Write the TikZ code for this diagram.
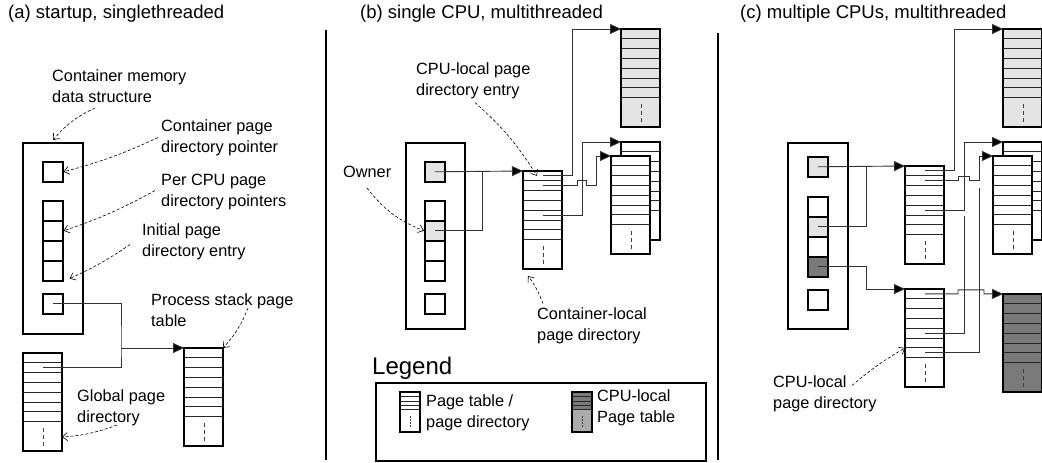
\documentclass[tikz,border=0pt]{standalone}
\usepackage{fontspec}
\setmainfont{Liberation Sans}
\usetikzlibrary{arrows.meta,calc}
\definecolor{ptlight}{HTML}{E4E4E4}
\definecolor{ptdark}{HTML}{7A7A7A}
\definecolor{ptmid}{HTML}{ABABAB}
\tikzset{
  boxline/.style={draw=black, line width=1.6pt},
  container/.style={boxline, fill=white, inner sep=0pt, anchor=north west},
  slot/.style={boxline, inner sep=0pt, minimum size=20pt, anchor=north west},
  ptable/.style={boxline, inner sep=0pt, outer sep=0pt, minimum width=39pt,
    minimum height=98pt, anchor=north west},
  rowline/.style={draw=black!85, line width=0.9pt},
  dotline/.style={draw=black!75, line width=1pt, dash pattern=on 4pt off 3pt},
  link/.style={-{Triangle[length=11pt,width=10pt,fill=black]}, line width=0.9pt,
    draw=black!80},
  note/.style={-{Straight Barb[length=5pt,width=8pt]}, line width=0.6pt,
    dash pattern=on 3pt off 2pt},
  txt/.style={font=\fontsize{16.3}{21}\selectfont, align=left, anchor=west, inner sep=0pt},
  paneltitle/.style={font=\fontsize{18.5}{22}\selectfont, anchor=west, inner sep=0pt},
  divider/.style={line width=1.6pt},
  legicon/.style={boxline, line width=1.3pt, inner sep=0pt, outer sep=0pt,
    minimum width=20pt, minimum height=40pt, anchor=north west}
}
% page table: fill, name, top-left corner
\newcommand{\pagetable}[3][white]{%
  \node[ptable, fill=#1] (#2) at (#3) {};
  \foreach \r in {1,...,7}{
    \draw[rowline] ($(#2.north west)+(0,\r*9.8)$) -- ++(39,0);
    \coordinate (#2-\r) at ($(#2.north west)+(20,\r*9.8-4.9)$);
  }
  \draw[dotline] ($(#2.north west)+(20,75)$) -- ++(0,19);
}

\begin{document}
\begin{tikzpicture}[x=1pt,y=-1pt]
  \clip (0,0) rectangle (1042,463);

  % panel titles and dividers
  \node[paneltitle] (title-a) at (8,14) {(a) startup, singlethreaded};
  \node[paneltitle] (title-b) at (360,14) {(b) single CPU, multithreaded};
  \node[paneltitle] (title-c) at (740,14) {(c) multiple CPUs, multithreaded};
  \draw[divider] (326,30) -- (326,460);
  \draw[divider] (718,33) -- (718,460);

  % (a) startup
  \node[container, minimum width=60pt, minimum height=191pt] (cont-a) at (22,142) {};
  \node[slot] (sa0) at (42,161) {};
  \foreach \k/\y in {1/200,2/220,3/240,4/260}
    \node[slot] (sa\k) at (42,\y) {};
  \node[slot] (sa5) at (42,293) {};
  \pagetable{gdir}{23,353}
  \pagetable{pst}{184,348}

  \coordinate (ja) at (121,348);
  \draw[link,-] (sa5.center) -| (ja) |- (gdir-2);
  \draw[link] (ja) -- (pst.north west);

  \node[txt] (lcmem) at (52,86) {Container memory\\data structure};
  \node[txt] (lcpd) at (161,137.5) {Container page\\directory pointer};
  \node[txt] (lpcpu) at (161,191.5) {Per CPU page\\directory pointers};
  \node[txt] (linit) at (142,241.5) {Initial page\\directory entry};
  \node[txt] (lpst) at (151,310) {Process stack page\\table};
  \node[txt] (lgpd) at (77,408) {Global page\\directory};

  \draw[note] ($(lcmem.west)+(43,22)$) to[bend right=12] ($(cont-a.north west)+(31,-2)$);
  \draw[note] ($(lcpd.west)+(-3,0)$) to[bend left=5] (sa0.east);
  \draw[note] ($(lpcpu.west)+(-6,-1)$) to[bend left=5] (sa2.east);
  \draw[note] ($(linit.west)+(-12,3)$) to[bend left=5] ($(sa4.south east)+(6,-3)$);
  \draw[note] ($(lpst.west)+(97,-2)$) to[bend left=10] (pst.north east);
  \draw[note] ($(lgpd.west)+(40,17)$) to[bend left=8] ($(gdir.east)+(0,35)$);

  % (b) single CPU, multithreaded
  \node[container, minimum width=59pt, minimum height=186pt] (cont-b) at (405,142) {};
  \node[slot, fill=ptlight] (sb0) at (424,161) {};
  \foreach \k/\y/\c in {1/200/white,2/220/ptlight,3/240/white,4/260/white}
    \node[slot, fill=\c] (sb\k) at (424,\y) {};
  \node[slot] (sb5) at (424,293) {};
  \pagetable{dirb}{523,171}
  \pagetable[ptlight]{gtb}{621,29}
  \pagetable{backb}{621,142}
  \pagetable{frontb}{611,156}

  \draw[link] (sb0.center) -- (dirb.north west);
  \draw[link,-] (sb2.center) -- ++(48,0) -- ++(0,-59);
  \draw[link] (dirb-1) -- ++(29,0) |- (gtb.north west);
  \draw[link] (dirb-2) -- ++(34,0) -- ++(0,-5) -- ++(9,0) -- ++(0,5) -- ++(10,0)
    |- (frontb.north west);
  \draw[link] (dirb-5) -- ++(39,0) |- (backb.north west);

  \node[txt] (lcle) at (416,80.5) {CPU-local page\\directory entry};
  \node[txt] (lown) at (343,172) {Owner};
  \node[txt] (lclpd) at (537,325.5) {Container-local\\page directory};

  \draw[note] ($(lcle.west)+(59,22)$) to[bend left=8] ($(dirb-1)+(-6,0)$);
  \draw[note] ($(lown.west)+(24,16)$) to[bend right=15] (sb2.west);
  \draw[note] ($(lclpd.west)+(6,-22)$) to[bend right=8] ($(dirb.south west)+(5,7)$);

  % legend
  \node[txt, font=\fontsize{24}{28}\selectfont] (leg-title) at (372,368) {Legend};
  \node[boxline, inner sep=0pt, minimum width=330pt, minimum height=78pt,
    anchor=north west] (leg-box) at (375,382) {};
  \node[legicon, fill=white] (leg-pt) at (400,392) {};
  \foreach \r in {1,...,4}
    \draw[rowline, line width=0.6pt] ($(leg-pt.north west)+(0,\r*4.4)$) -- ++(20,0);
  \draw[dotline, line width=0.6pt, dash pattern=on 1.5pt off 1.5pt]
    ($(leg-pt.north west)+(10,24)$) -- ++(0,12);
  \node[legicon, fill=ptmid, path picture={
      \fill[ptdark] (path picture bounding box.north west) rectangle
        ($(path picture bounding box.north east)+(0,18)$);}] (leg-cpt) at (572,392) {};
  \foreach \r in {1,...,4}
    \draw[rowline, line width=0.6pt] ($(leg-cpt.north west)+(0,\r*4.4)$) -- ++(20,0);
  \draw[dotline, line width=0.6pt, dash pattern=on 1.5pt off 1.5pt]
    ($(leg-cpt.north west)+(10,24)$) -- ++(0,12);
  \node[txt] (leg-pt-txt) at (426,413) {Page table /\\page directory};
  \node[txt] (leg-cpt-txt) at (597,407.5) {CPU-local\\Page table};

  % (c) multiple CPUs, multithreaded
  \node[container, minimum width=60pt, minimum height=186pt] (cont-c) at (787,142) {};
  \node[slot, fill=ptlight] (sc0) at (807,156) {};
  \foreach \k/\y/\c in {1/196/white,2/216/ptlight,3/236/white,4/256/ptdark}
    \node[slot, fill=\c] (sc\k) at (807,\y) {};
  \node[slot] (sc5) at (807,289) {};
  \pagetable{dirc}{905,166}
  \pagetable{dircl}{905,289}
  \pagetable[ptlight]{gtc}{1003,29}
  \pagetable{backc}{1003,142}
  \pagetable{frontc}{993,156}
  \pagetable[ptdark]{darkc}{1003,294}

  \draw[link] (sc0.center) -- (dirc.north west);
  \draw[link,-] (sc2.center) -- ++(49,0) -- ++(0,-60);
  \draw[link] (sc4.center) -- ++(49,0) |- (dircl.north west);
  \draw[link] (dirc-1) -- ++(29,0) |- (gtc.north west);
  \draw[link] (dirc-2) -- ++(33,0) -- ++(0,-4) -- ++(11,0) -- ++(0,4) -- ++(10,0)
    |- (frontc.north west);
  \draw[link] (dirc-5) -- ++(39,0) |- (backc.north west);
  \draw[link] (dircl-1) -- ++(33,0) -- ++(0,-4) -- ++(26,0) -- ++(0,4)
    -- (darkc.north west);
  \draw[link,-] (dircl-5) -- ++(39,0) -- ++(0,-117);
  \draw[link,-] (dircl-7) -- ++(54,0) -- ++(0,-165);

  \node[txt] (lcpl) at (773,393.5) {CPU-local\\page directory};
  \draw[note] ($(lcpl.west)+(79,-8)$) to[bend left=5] ($(dircl.west)+(0,10)$);
\end{tikzpicture}
\end{document}
